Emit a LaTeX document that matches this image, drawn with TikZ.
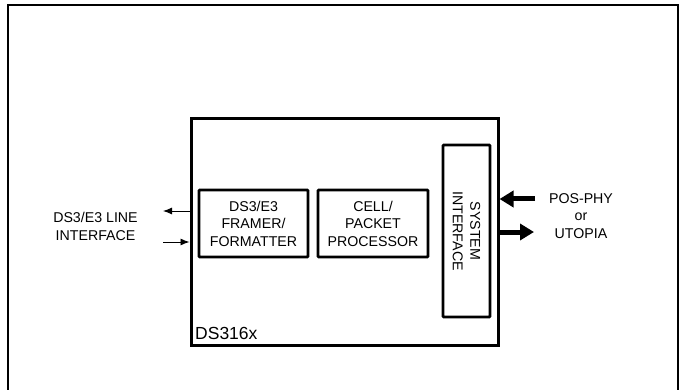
\documentclass[tikz,border=0pt]{standalone}
\usepackage{fontspec}
\setmainfont{Liberation Sans}
\usetikzlibrary{positioning,arrows.meta}
\tikzstyle{chip} = [draw, line width=3pt, rectangle, minimum width=307pt, minimum height=226pt, inner sep=0pt]
\tikzstyle{block} = [draw, line width=2.6pt, rectangle, rounded corners=0.6pt, align=center, inner sep=0pt, font=\fontsize{14.2}{17.5}\selectfont]
\tikzstyle{label} = [align=center, font=\fontsize{14.2}{17.5}\selectfont]

\begin{document}
\begin{tikzpicture}[x=1pt,y=-1pt,>={Latex[length=9pt,width=7pt]}]
		\clip (0,0) rectangle (685,390);
		\draw [line width=1.3pt] (8,400) -- (8,5) -- (678,5) -- (678,400);
		
		\node (chip) [chip] at (344.5,232) {};
		\node (ds) [anchor=base west, font=\fontsize{17.5}{20}\selectfont, inner sep=0pt] at (195,339) {DS316x};
		\node (fr) [block, minimum width=109pt, minimum height=67pt] at (253.5,223.5) {DS3/E3\\FRAMER/\\FORMATTER};
		\node (cp) [block, minimum width=110pt, minimum height=67pt] at (373,223.5) {CELL/\\PACKET\\PROCESSOR};
		\node (si) [block, minimum width=47pt, minimum height=172pt] at (466.5,231) {};
		\node [label, rotate=-90] at (si.center) {SYSTEM\\INTERFACE};
		
		\node (line) [label] at (95.5,226.5) {DS3/E3 LINE\\INTERFACE};
		\node (pos) [label] at (581,216) {POS-PHY\\or\\UTOPIA};
		
		\coordinate (lout) at (163,211);
		\coordinate (lin) at (163,242);
		\draw [->, line width=0.9pt] (lout -| chip.west) -- (lout);
		\draw [->, line width=0.9pt] (lin) -- (lin -| chip.west);
		
		\coordinate (rin) at (535,199);
		\coordinate (rout) at (534,232);
		\draw [-{Triangle[length=14pt,width=16pt]}, line width=5pt] (rin) -- (rin -| chip.east);
		\draw [-{Triangle[length=14pt,width=16pt]}, line width=5pt] (rout -| chip.east) -- (rout);
	\end{tikzpicture}
\end{document}
